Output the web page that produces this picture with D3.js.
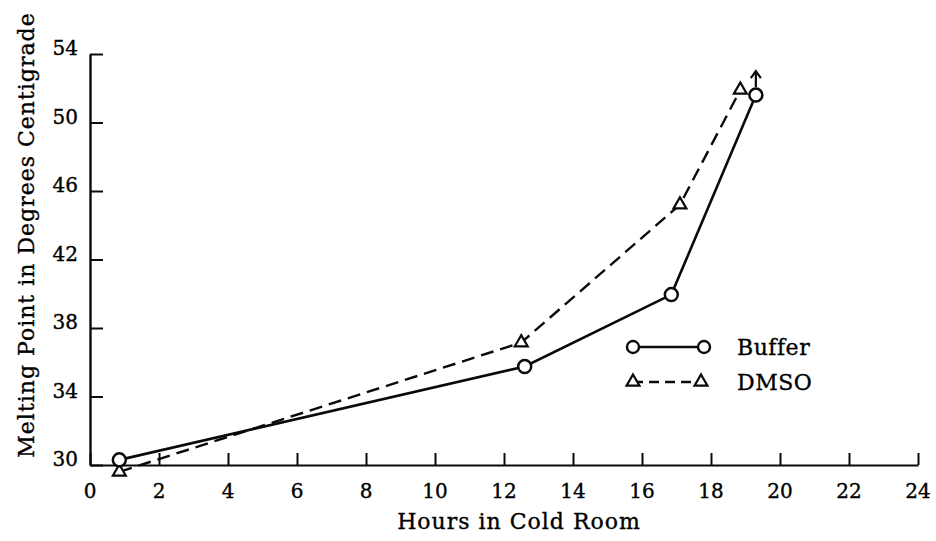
<!DOCTYPE html>
<html>
<head>
<meta charset="utf-8">
<script src="https://cdn.jsdelivr.net/npm/d3@7"></script>
<style>
  body { margin: 0; background: #fff; }
  text { font-family: "DejaVu Serif", serif; fill: #000; stroke: #000; stroke-width: 0.35px; }
</style>
</head>
<body>
<div id="chart-container"></div>
<script>
// Data
const hours = [0.85, 12.6, 16.85, 19.3];
const bufferMelt = [30.3, 35.75, 39.95, 51.6];
const dmsoHours = [0.85, 12.5, 17.1, 18.85];
const dmsoMelt = [29.6, 37.15, 45.2, 51.9];
const xTicks = [0, 2, 4, 6, 8, 10, 12, 14, 16, 18, 20, 22, 24];
const yTicks = [30, 34, 38, 42, 46, 50, 54];

// Dimensions
const margin = { top: 54, right: 18, bottom: 76, left: 90 };
const width = 936 - margin.left - margin.right;
const height = 541 - margin.top - margin.bottom;

const x = d3.scaleLinear().domain([0, 24]).range([0, width]);
const y = d3.scaleLinear().domain([30, 54]).range([height, 0]);

const svg = d3.select("#chart-container")
  .append("svg")
  .attr("width", width + margin.left + margin.right)
  .attr("height", height + margin.top + margin.bottom)
  .append("g")
  .attr("transform", `translate(${margin.left},${margin.top})`);

const ink = "#0a0a0a";

// x-axis (ticks pointing up into the plot)
svg.append("g")
  .attr("transform", `translate(0,${height})`)
  .call(d3.axisTop(x).tickValues(xTicks).tickSize(12).tickSizeOuter(0).tickFormat(""))
  .call(g => g.select(".domain").attr("stroke", ink).attr("stroke-width", 2.2))
  .call(g => g.selectAll(".tick line").attr("stroke", ink).attr("stroke-width", 2));

svg.append("g")
  .selectAll("text")
  .data(xTicks)
  .join("text")
  .attr("x", d => x(d))
  .attr("y", height + 33)
  .attr("text-anchor", "middle")
  .style("font-size", "20px")
  .text(d => d);

// y-axis (ticks pointing right)
svg.append("g")
  .call(d3.axisRight(y).tickValues(yTicks).tickSize(13).tickSizeOuter(0).tickFormat(""))
  .call(g => g.select(".domain").attr("stroke", ink).attr("stroke-width", 2.4))
  .call(g => g.selectAll(".tick line").attr("stroke", ink).attr("stroke-width", 2));

svg.append("g")
  .selectAll("text")
  .data(yTicks)
  .join("text")
  .attr("x", -12)
  .attr("y", d => y(d) + 1)
  .attr("text-anchor", "end")
  .style("font-size", "20px")
  .text(d => d);

// axis labels
svg.append("text")
  .attr("x", 519 - margin.left)
  .attr("y", height + 64)
  .attr("text-anchor", "middle")
  .style("font-size", "22px")
  .style("letter-spacing", "1px")
  .text("Hours in Cold Room");

svg.append("text")
  .attr("transform", "rotate(-90)")
  .attr("x", -(235 - margin.top))
  .attr("y", -56)
  .attr("text-anchor", "middle")
  .style("font-size", "22px")
  .style("letter-spacing", "1px")
  .text("Melting Point in Degrees Centigrade");

// series
const buffer = hours.map((h, i) => ({ h, m: bufferMelt[i] }));
const dmso = dmsoHours.map((h, i) => ({ h, m: dmsoMelt[i] }));

const line = d3.line().x(d => x(d.h)).y(d => y(d.m));

svg.append("path")
  .datum(dmso)
  .attr("fill", "none")
  .attr("stroke", ink)
  .attr("stroke-width", 2.4)
  .attr("stroke-dasharray", "13,7")
  .attr("d", line);

svg.append("path")
  .datum(buffer)
  .attr("fill", "none")
  .attr("stroke", ink)
  .attr("stroke-width", 2.6)
  .attr("d", line);

const tri = d3.symbol().type(d3.symbolTriangle).size(72);

svg.selectAll(".tri")
  .data(dmso)
  .join("path")
  .attr("class", "tri")
  .attr("transform", d => `translate(${x(d.h)},${y(d.m)})`)
  .attr("d", tri)
  .attr("fill", "#fff")
  .attr("stroke", ink)
  .attr("stroke-width", 2.2);

svg.selectAll(".dot")
  .data(buffer)
  .join("circle")
  .attr("class", "dot")
  .attr("cx", d => x(d.h))
  .attr("cy", d => y(d.m))
  .attr("r", 6.5)
  .attr("fill", "#fff")
  .attr("stroke", ink)
  .attr("stroke-width", 2.5);

// arrow above the last buffer point (value off scale)
const last = buffer[buffer.length - 1];
const ax = x(last.h), ay = y(last.m);
svg.append("line")
  .attr("x1", ax).attr("x2", ax)
  .attr("y1", ay - 8).attr("y2", ay - 22)
  .attr("stroke", ink).attr("stroke-width", 2.2);
svg.append("path")
  .attr("d", `M${ax - 5},${ay - 17} L${ax},${ay - 24} L${ax + 5},${ay - 17}`)
  .attr("fill", "none")
  .attr("stroke", ink).attr("stroke-width", 2.2);

// legend
const legend = svg.append("g").attr("transform", `translate(${633 - margin.left},${347 - margin.top})`);

legend.append("line")
  .attr("x1", 0).attr("x2", 71).attr("y1", 0).attr("y2", 0)
  .attr("stroke", ink).attr("stroke-width", 2.4);
legend.selectAll("circle")
  .data([0, 71])
  .join("circle")
  .attr("cx", d => d).attr("cy", 0).attr("r", 6)
  .attr("fill", "#fff").attr("stroke", ink).attr("stroke-width", 2.4);
legend.append("text")
  .attr("x", 104).attr("y", 8)
  .style("font-size", "22px")
  .style("letter-spacing", "0.5px")
  .text("Buffer");

legend.append("line")
  .attr("x1", 0).attr("x2", 68).attr("y1", 35).attr("y2", 35)
  .attr("stroke", ink).attr("stroke-width", 2.4)
  .attr("stroke-dasharray", "10,6");
legend.selectAll(".ltri")
  .data([0, 68])
  .join("path")
  .attr("class", "ltri")
  .attr("transform", d => `translate(${d},35)`)
  .attr("d", tri)
  .attr("fill", "#fff").attr("stroke", ink).attr("stroke-width", 2.2);
legend.append("text")
  .attr("x", 104).attr("y", 43)
  .style("font-size", "22px")
  .style("letter-spacing", "0.5px")
  .text("DMSO");
</script>
</body>
</html>
